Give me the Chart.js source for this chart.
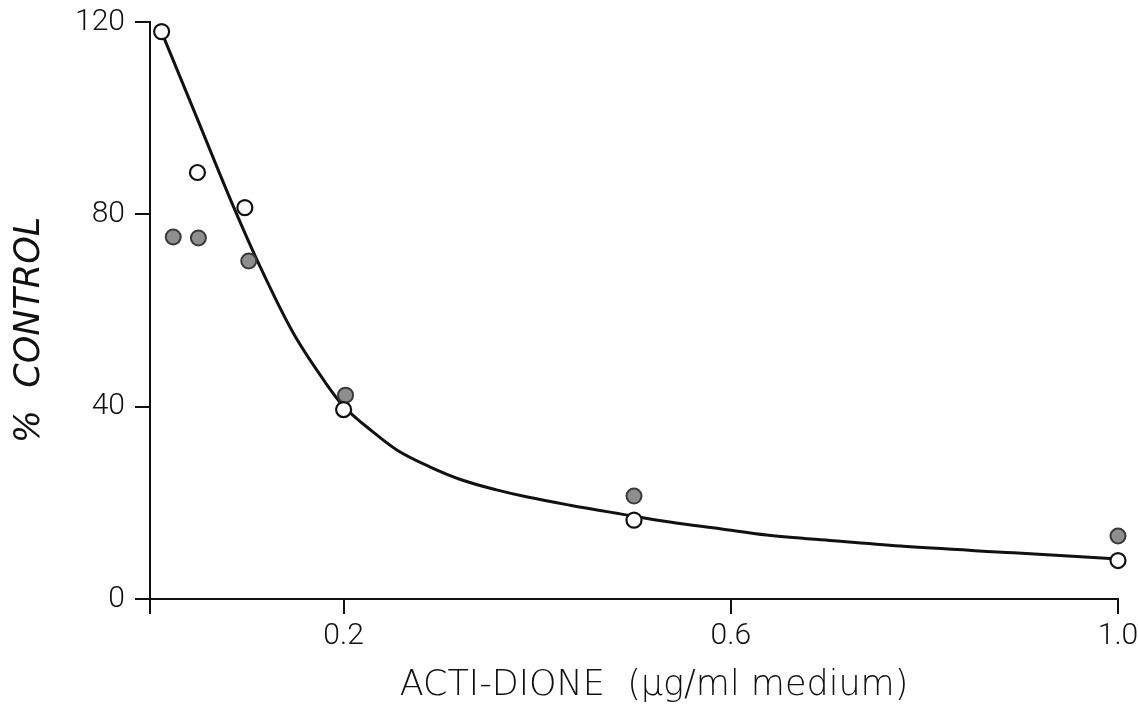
<!DOCTYPE html>
<html>
<head>
<meta charset="utf-8">
<script src="https://cdn.jsdelivr.net/npm/chart.js@4/dist/chart.umd.min.js"></script>
<style>
  html, body { margin: 0; padding: 0; background: #ffffff; }
  #wrap { width: 1138px; height: 706px; }
</style>
</head>
<body>
<div id="wrap"><canvas id="c" width="1138" height="706"></canvas></div>
<script>
// Dose of Acti-dione (µg/ml medium) and response as % of control
const openDose   = [0.012, 0.049, 0.098, 0.2, 0.5, 1.0];
const openPct    = [118, 88.7, 81.4, 39.4, 16.4, 8.0];
const filledDose = [0.024, 0.05, 0.102, 0.202, 0.5, 1.0];
const filledPct  = [75.3, 75.1, 70.3, 42.4, 21.4, 13.1];

// Hand-fitted response curve
const curveDose = [0.012, 0.049, 0.086, 0.114, 0.148, 0.183, 0.199, 0.23, 0.255, 0.289, 0.323, 0.358, 0.39, 0.434, 0.486, 0.537, 0.589, 0.637, 0.706, 0.775, 0.892, 1.0];
const curvePct  = [117.9, 99.8, 81.7, 69.0, 55.3, 44.5, 40.3, 34.8, 31.0, 27.5, 24.7, 22.7, 21.2, 19.5, 17.7, 16.0, 14.6, 13.3, 12.1, 11.0, 9.6, 8.3];

// Axis ticks and captions
const xTickValues = [0, 0.2, 0.6, 1.0];
const xTickLabels = ['', '0.2', '0.6', '1.0'];
const yTickValues = [0, 40, 80, 120];
const yTickLabels = ['0', '40', '80', '120'];
const xCaption = 'ACTI-DIONE  (µg/ml medium)';
const yCaption = '%  CONTROL';

const toPoints = (xs, ys) => xs.map((x, i) => ({ x: x, y: ys[i] }));

const ink = '#111111';
const letterFont = "'DejaVu Sans', 'Liberation Sans', sans-serif";
const digitFont = "Roboto, 'DejaVu Sans', sans-serif";

// Axis captions drawn in the lettering style
const captions = {
  id: 'captions',
  afterDraw(chart) {
    const ctx = chart.ctx;
    ctx.save();
    ctx.fillStyle = ink;
    ctx.textAlign = 'center';
    ctx.textBaseline = 'middle';
    ctx.font = "200 35px " + letterFont;
    ctx.fillText(xCaption, 654, 686);
    ctx.translate(30, 330);
    ctx.rotate(-Math.PI / 2);
    ctx.font = "italic 200 35px " + letterFont;
    ctx.fillText(yCaption, 0, 0);
    ctx.restore();
  }
};

new Chart(document.getElementById('c'), {
  type: 'scatter',
  data: {
    datasets: [
      {
        label: 'curve',
        type: 'line',
        data: toPoints(curveDose, curvePct),
        borderColor: ink,
        borderWidth: 3,
        pointRadius: 0,
        fill: false,
        cubicInterpolationMode: 'monotone',
        order: 3,
        clip: false
      },
      {
        label: 'filled',
        data: toPoints(filledDose, filledPct),
        pointRadius: 7.5,
        pointBackgroundColor: '#8e8e8e',
        pointBorderColor: '#3a3a3a',
        pointBorderWidth: 2,
        order: 2,
        clip: false
      },
      {
        label: 'open',
        data: toPoints(openDose, openPct),
        pointRadius: 7.5,
        pointBackgroundColor: '#ffffff',
        pointBorderColor: ink,
        pointBorderWidth: 2.2,
        order: 1,
        clip: false
      }
    ]
  },
  plugins: [captions],
  options: {
    responsive: false,
    animation: false,
    layout: { padding: { left: 0, right: 20, top: 22, bottom: 0 } },
    plugins: {
      legend: { display: false },
      tooltip: { enabled: false }
    },
    scales: {
      x: {
        type: 'linear',
        min: 0,
        max: 1.0,
        afterBuildTicks: (scale) => { scale.ticks = xTickValues.map(v => ({ value: v })); },
        afterFit: (scale) => { scale.height = 107; scale.paddingLeft = 0; scale.paddingRight = 0; },
        ticks: {
          color: ink,
          padding: 4,
          maxRotation: 0,
          autoSkip: false,
          font: { family: digitFont, size: 30, weight: 300 },
          callback: (v) => { const i = xTickValues.indexOf(v); return i >= 0 ? xTickLabels[i] : ''; }
        },
        grid: { drawOnChartArea: false, drawTicks: true, tickLength: 15, color: ink, lineWidth: 2 },
        border: { display: true, color: ink, width: 2 },
        title: { display: false }
      },
      y: {
        min: 0,
        max: 120,
        afterBuildTicks: (scale) => { scale.ticks = yTickValues.map(v => ({ value: v })); },
        afterFit: (scale) => { scale.width = 150; scale.paddingTop = 0; scale.paddingBottom = 0; },
        ticks: {
          color: ink,
          padding: 10,
          font: { family: digitFont, size: 30, weight: 300 },
          callback: (v) => { const i = yTickValues.indexOf(v); return i >= 0 ? yTickLabels[i] : ''; }
        },
        grid: { drawOnChartArea: false, drawTicks: true, tickLength: 15, color: ink, lineWidth: 2 },
        border: { display: true, color: ink, width: 2 },
        title: { display: false }
      }
    }
  }
});
</script>
</body>
</html>
